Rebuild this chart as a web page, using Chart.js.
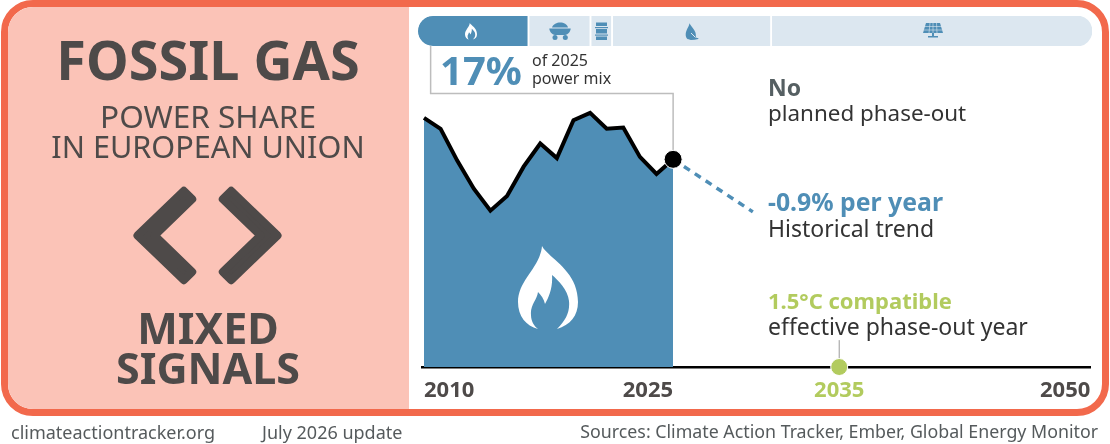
<!DOCTYPE html>
<html lang="en">
<head>
<meta charset="UTF-8">
<title>Fossil gas power share</title>
<script src="https://cdn.jsdelivr.net/npm/chart.js"></script>
<style>
    html, body { margin: 0; padding: 0; background: #fff; }
    body { width: 1110px; height: 444px; position: relative; overflow: hidden; font-family: "Noto Sans", sans-serif; color: #333; }
    #card { position: absolute; left: 1px; top: 0; width: 1094px; height: 402px; border: 7px solid #F2694C; border-radius: 32px; overflow: hidden; background: #fff; }
    #pink { position: absolute; left: 0; top: 0; width: 401px; height: 100%; background: #FBC3B7; }
    canvas { position: absolute; }
    #mainChart { left: 0; top: 0; }
    #mixChart { left: 418px; top: 16px; }
    svg { position: absolute; left: 0; top: 0; }
    .t { position: absolute; white-space: nowrap; line-height: 1; }
    .c { left: 8px; width: 400px; text-align: center; }
    .head { color: #4E4A49; font-weight: 700; }
    .sub { color: #4E4A49; }
    .note { font-size: 23px; color: #333; }
    .foot { font-size: 18px; color: #555A5C; top: 423px; }
</style>
</head>
<body>
    <div id="card"><div id="pink"></div></div>
    <canvas id="mainChart" width="1110" height="444"></canvas>
    <canvas id="mixChart" width="674" height="30"></canvas>

    <svg width="1110" height="444" viewBox="0 0 1110 444">
        <defs>
            <path id="flame" d="M542 246C548 258 578 270 578 302C578 316 570 325 557 329C566 320 570 312 569 301C568 290 558 280 552 275C553 287 549 297 545 304C544 299 541 295 538 292C537 300 530 305 531 315C531 321 534 326 538 329C526 326 518 316 518 302C518 280 540 268 542 246Z"/>
        </defs>
        <use href="#flame" fill="#fff"/>
        <use href="#flame" fill="#fff" transform="translate(361.4 -26.2) scale(.2)"/>
        <!-- chevrons -->
        <g fill="#4E4A49" stroke="#4E4A49" stroke-width="8" stroke-linejoin="round">
            <polygon points="137.5,235.5 183.8,190.8 192.2,199.2 154.5,235.5 192.2,271.8 183.8,280.2"/>
            <polygon points="277.5,235.5 231.2,190.8 222.8,199.2 260.5,235.5 222.8,271.8 231.2,280.2"/>
        </g>
        <g fill="#4F8EB6">
            <!-- coal cart -->
            <path d="M552 27.5C553 24 557 22.5 560 22.5C564 22.5 567 24 568 27.5Z"/>
            <path d="M549.3 28.500H570.700C570.700 31 568 35 565 35H555C552 35 549.3 31 549.3 28.500Z"/>
            <circle cx="555" cy="37.500" r="2.500"/><circle cx="565.300" cy="37.500" r="2.500"/>
            <!-- barrel -->
            <rect x="596" y="22.5" width="11" height="3.5"/><rect x="595" y="27" width="13" height="1.2"/>
            <rect x="596" y="29" width="11" height="4.5"/><rect x="595" y="34.5" width="13" height="1.2"/>
            <rect x="596" y="36.5" width="11" height="3.5"/>
            <!-- leaf -->
            <path d="M689.500 23.300C689 27 685.700 30 685.700 34.800C685.700 38.300 688 40 691 40C693.500 40 696 39.500 698.300 39V38C696.500 38.300 695.800 37.500 695.800 36C696.500 31 692 28 689.500 23.300Z"/>
            <!-- solar panel -->
            <path d="M926 23H940L943 33H923Z"/>
            <rect x="932" y="33" width="2" height="3"/><rect x="928" y="36" width="10" height="1.500"/>
        </g>
        <g stroke="#DCE7F0" stroke-width=".6" fill="none">
            <path d="M930 23L929 33M933 23V33M936.500 23L937 33M924 26.500H942M923.500 30H942.500"/>
            <path d="M691 33L695.500 37.500" stroke-width="1"/>
        </g>
    </svg>

    <div class="t c head" style="top:32px;font-size:54px">FOSSIL GAS</div>
    <div class="t c sub" style="top:100px;font-size:31.5px">POWER SHARE</div>
    <div class="t c sub" style="top:131px;font-size:30.6px">IN EUROPEAN UNION</div>
    <div class="t c head" style="top:306px;font-size:43px">MIXED</div>
    <div class="t c head" style="top:346px;font-size:43px">SIGNALS</div>

    <div class="t" style="left:440px;top:50px;font-size:40px;font-weight:700;color:#4F8EB6">17%</div>
    <div class="t" style="left:532px;top:52px;font-size:16px">of 2025</div>
    <div class="t" style="left:532px;top:70px;font-size:16px">power mix</div>

    <div class="t note" style="left:768px;top:76px;font-weight:700;color:#555F62">No</div>
    <div class="t note" style="left:768px;top:102px;font-size:22.4px">planned phase-out</div>
    <div class="t note" style="left:768px;top:189px;font-size:24.8px;font-weight:700;color:#4F8EB6">-0.9% per year</div>
    <div class="t note" style="left:768px;top:217px">Historical trend</div>
    <div class="t note" style="left:768px;top:289px;font-size:22px;font-weight:700;color:#B2CB5E">1.5°C compatible</div>
    <div class="t note" style="left:768px;top:315px">effective phase-out year</div>

    <div class="t foot" style="left:11px">climateactiontracker.org</div>
    <div class="t foot" style="left:262px">July 2026 update</div>
    <div class="t foot" style="right:12px;font-size:17.8px">Sources: Climate Action Tracker, Ember, Global Energy Monitor</div>

    <script>
        // fossil gas share of the power mix
        const historyYears = [2010, 2011, 2012, 2013, 2014, 2015, 2016, 2017, 2018, 2019, 2020, 2021, 2022, 2023, 2024, 2025];
        const gasShare = [20.4, 19.5, 16.9, 14.6, 12.8, 14.0, 16.4, 18.3, 17.1, 20.2, 20.8, 19.5, 19.6, 17.2, 15.8, 17.0];
        const trendYears = [2025, 2029.8];
        const trendShare = [17.0, 12.7];
        const leaderYears = [2025, 2025, 2010.4, 2010.4];
        const leaderShare = [17.0, 22.4, 22.4, 26.3];
        const phaseOutYears = [2035, 2035];
        const phaseOutShare = [0, 2.2];
        const tickYears = [2010, 2025, 2035, 2050];
        const tickColors = ['#4E4A49', '#4E4A49', '#B2CB5E', '#4E4A49'];
        const tickAligns = ['left', 'right', 'center', 'right'];

        // 2025 power mix bar across the top
        const mixNames = ['Fossil gas', 'Coal', 'Oil', 'Other renewables', 'Wind and solar'];
        const mixShare = [16.5, 9.2, 3.2, 23.6, 47.5];
        const mixColors = ['#4F8EB6', '#DCE7F0', '#DCE7F0', '#DCE7F0', '#DCE7F0'];

        function toPoints(xs, ys) {
            return xs.map((x, i) => ({ x: x, y: ys[i] }));
        }

        // tick labels line up with the plot edges, which the axis can't do per tick
        const yearLabels = {
            id: 'yearLabels',
            afterDraw(chart) {
                const ctx = chart.ctx;
                const xScale = chart.scales.x;
                ctx.save();
                ctx.font = '700 22px "Noto Sans"';
                ctx.textBaseline = 'middle';
                tickYears.forEach((year, i) => {
                    let px = xScale.getPixelForValue(year);
                    if (year === 2050) px += 2;
                    ctx.fillStyle = tickColors[i];
                    ctx.textAlign = tickAligns[i];
                    ctx.fillText(String(year), px, 391);
                });
                ctx.restore();
            }
        };

        new Chart(document.getElementById('mainChart'), {
            type: 'scatter',
            plugins: [yearLabels],
            data: {
                datasets: [
                    {
                        label: 'Phase-out marker',
                        data: toPoints(phaseOutYears, phaseOutShare),
                        showLine: true,
                        borderColor: '#9a9a9a',
                        borderWidth: 1,
                        pointRadius: [8.5, 0],
                        pointBackgroundColor: '#B2CB5E',
                        pointBorderColor: '#fff',
                        pointBorderWidth: 1,
                        clip: false,
                        order: 0
                    },
                    {
                        label: 'Callout',
                        data: toPoints(leaderYears, leaderShare),
                        showLine: true,
                        borderColor: '#BDBDBD',
                        borderWidth: 1.5,
                        pointRadius: 0,
                        order: 4
                    },
                    {
                        label: 'Historical trend',
                        data: toPoints(trendYears, trendShare),
                        showLine: true,
                        borderColor: '#4F8EB6',
                        borderWidth: 3.5,
                        borderDash: [7, 6],
                        pointRadius: 0,
                        order: 3
                    },
                    {
                        label: 'Fossil gas share',
                        data: toPoints(historyYears, gasShare),
                        showLine: true,
                        tension: 0,
                        fill: 'origin',
                        backgroundColor: '#4F8EB6',
                        borderColor: '#000',
                        borderWidth: 4,
                        pointRadius: historyYears.map(y => y === 2025 ? 9 : 0),
                        pointBackgroundColor: '#000',
                        pointBorderColor: '#fff',
                        pointBorderWidth: 1,
                        order: 2
                    }
                ]
            },
            options: {
                responsive: false,
                animation: false,
                devicePixelRatio: 1,
                layout: { padding: { left: 422, right: 20, top: 40, bottom: 69 } },
                plugins: { legend: { display: false }, tooltip: { enabled: false } },
                scales: {
                    x: {
                        type: 'linear',
                        min: 2009.88,
                        max: 2050.1,
                        grid: { display: false },
                        border: { color: '#000', width: 2.5 },
                        ticks: { display: false }
                    },
                    y: {
                        display: false,
                        min: 0,
                        max: 26.77
                    }
                }
            }
        });

        new Chart(document.getElementById('mixChart'), {
            type: 'bar',
            data: {
                labels: ['2025'],
                datasets: mixShare.map((share, i) => ({
                    label: mixNames[i],
                    data: [share],
                    backgroundColor: mixColors[i],
                    borderColor: '#fff',
                    borderWidth: { right: i < mixShare.length - 1 ? 2 : 0 },
                    borderSkipped: false,
                    borderRadius: i === 0 ? { topLeft: 15, bottomLeft: 15 } : (i === mixShare.length - 1 ? { topRight: 15, bottomRight: 15 } : 0),
                    barPercentage: 1,
                    categoryPercentage: 1
                }))
            },
            options: {
                indexAxis: 'y',
                responsive: false,
                animation: false,
                devicePixelRatio: 1,
                plugins: { legend: { display: false }, tooltip: { enabled: false } },
                scales: {
                    x: { display: false, stacked: true, min: 0, max: 100 },
                    y: { display: false, stacked: true }
                }
            }
        });
    </script>
</body>
</html>
